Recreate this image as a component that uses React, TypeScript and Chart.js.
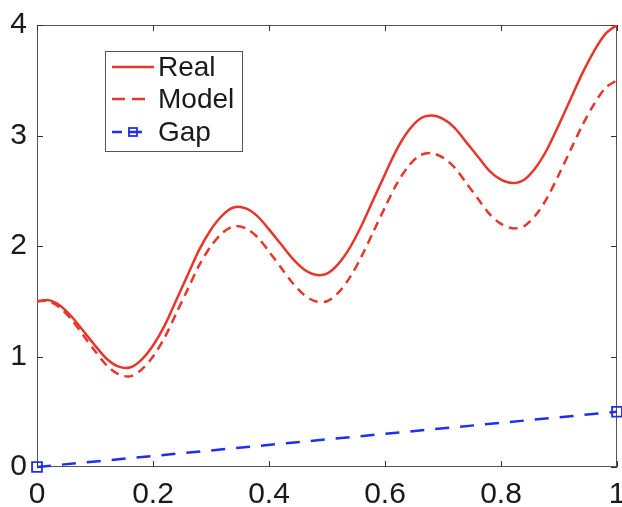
import { useEffect, useRef } from "react";
import { Chart, registerables } from "chart.js";

Chart.register(...registerables);

// sample positions along x
const xValues = [
  0, 0.02, 0.04, 0.06, 0.08, 0.1, 0.12, 0.14, 0.16, 0.18,
  0.2, 0.22, 0.24, 0.26, 0.28, 0.3, 0.32, 0.34, 0.36, 0.38,
  0.4, 0.42, 0.44, 0.46, 0.48, 0.5, 0.52, 0.54, 0.56, 0.58,
  0.6, 0.62, 0.64, 0.66, 0.68, 0.7, 0.72, 0.74, 0.76, 0.78,
  0.8, 0.82, 0.84, 0.86, 0.88, 0.9, 0.92, 0.94, 0.96, 0.98, 1,
];

const realValues = [
  1.5, 1.51, 1.46, 1.36, 1.23, 1.1, 0.98, 0.91, 0.9, 0.97,
  1.1, 1.28, 1.51, 1.74, 1.97, 2.15, 2.28, 2.35, 2.34, 2.27,
  2.15, 2.02, 1.89, 1.79, 1.74, 1.75, 1.84, 1.99, 2.19, 2.42,
  2.65, 2.87, 3.04, 3.15, 3.18, 3.15, 3.07, 2.94, 2.81, 2.68,
  2.6, 2.57, 2.6, 2.71, 2.88, 3.1, 3.33, 3.56, 3.76, 3.92, 4.0,
];

const modelValues = [
  1.5, 1.5, 1.44, 1.33, 1.19, 1.05, 0.92, 0.84, 0.82, 0.88,
  1.0, 1.17, 1.39, 1.61, 1.83, 2.0, 2.12, 2.18, 2.16, 2.08,
  1.95, 1.81, 1.67, 1.56, 1.5, 1.5, 1.58, 1.72, 1.91, 2.13,
  2.35, 2.56, 2.72, 2.82, 2.84, 2.8, 2.71, 2.57, 2.43, 2.29,
  2.2, 2.16, 2.18, 2.28, 2.44, 2.65, 2.87, 3.09, 3.28, 3.43, 3.5,
];

const gapX = [0, 1];
const gapValues = [0, 0.5];

const xTicks = [0, 0.2, 0.4, 0.6, 0.8, 1];
const xTickLabels = ["0", "0.2", "0.4", "0.6", "0.8", "1"];
const yTicks = [0, 1, 2, 3, 4];
const yTickLabels = ["0", "1", "2", "3", "4"];

const legendLabels = ["Real", "Model", "Gap"];

const RED = "#e5382a";
const BLUE = "#1d2ff0";
const AXIS = "#555555";
const TICK = "#333333";
const TXT = "#1a1a1a";
const FONT = '"Liberation Sans", Arial, Helvetica, sans-serif';

// box round the plot with inward ticks on all four sides
const framePlugin = {
  id: "frame",
  beforeDatasetsDraw(chart: any) {
    const { ctx, chartArea, scales } = chart;
    const { left, right, top, bottom } = chartArea;
    const tl = 6;
    ctx.save();
    ctx.strokeStyle = AXIS;
    ctx.lineWidth = 1;
    ctx.strokeRect(left + 0.5, top + 0.5, right - left - 1, bottom - top - 1);
    ctx.strokeStyle = TICK;
    ctx.beginPath();
    xTicks.forEach((v) => {
      const px = Math.round(scales.x.getPixelForValue(v)) + 0.5;
      ctx.moveTo(px, bottom);
      ctx.lineTo(px, bottom - tl);
      ctx.moveTo(px, top);
      ctx.lineTo(px, top + tl);
    });
    yTicks.forEach((v) => {
      const py = Math.round(scales.y.getPixelForValue(v)) + 0.5;
      ctx.moveTo(left, py);
      ctx.lineTo(left + tl, py);
      ctx.moveTo(right, py);
      ctx.lineTo(right - tl, py);
    });
    ctx.stroke();
    ctx.restore();
  },
};

const legendPlugin = {
  id: "boxLegend",
  afterDraw(chart: any) {
    const { ctx } = chart;
    const bx = 105, by = 51, bw = 137, bh = 100;
    const rows = [67, 99, 132];
    ctx.save();
    ctx.fillStyle = "#ffffff";
    ctx.fillRect(bx, by, bw, bh);
    ctx.strokeStyle = AXIS;
    ctx.lineWidth = 1;
    ctx.strokeRect(bx + 0.5, by + 0.5, bw, bh);

    ctx.lineWidth = 2.5;
    // Real
    ctx.strokeStyle = RED;
    ctx.setLineDash([]);
    ctx.beginPath();
    ctx.moveTo(112, rows[0]);
    ctx.lineTo(154, rows[0]);
    ctx.stroke();
    // Model
    ctx.setLineDash([13, 7]);
    ctx.beginPath();
    ctx.moveTo(112, rows[1]);
    ctx.lineTo(146, rows[1]);
    ctx.stroke();
    // Gap
    ctx.strokeStyle = BLUE;
    ctx.setLineDash([]);
    ctx.beginPath();
    ctx.moveTo(112, rows[2]);
    ctx.lineTo(122, rows[2]);
    ctx.moveTo(128, rows[2]);
    ctx.lineTo(142, rows[2]);
    ctx.stroke();
    ctx.lineWidth = 1.8;
    ctx.strokeRect(129, rows[2] - 4, 8, 8);

    ctx.fillStyle = TXT;
    ctx.font = `28px ${FONT}`;
    ctx.textAlign = "left";
    ctx.textBaseline = "middle";
    legendLabels.forEach((t, i) => ctx.fillText(t, 158, rows[i] + 1));
    ctx.restore();
  },
};

export default function App() {
  const canvasRef = useRef<HTMLCanvasElement | null>(null);

  useEffect(() => {
    document.body.style.margin = "0";
    const canvas = canvasRef.current;
    if (!canvas) return;

    const tickFont = { family: FONT, size: 30 };

    const chart = new Chart(canvas, {
      type: "line",
      data: {
        datasets: [
          {
            label: legendLabels[0],
            data: xValues.map((x, i) => ({ x, y: realValues[i] })),
            borderColor: RED,
            borderWidth: 2.5,
            pointRadius: 0,
            tension: 0.3,
            fill: false,
          },
          {
            label: legendLabels[1],
            data: xValues.map((x, i) => ({ x, y: modelValues[i] })),
            borderColor: RED,
            borderWidth: 2.5,
            borderDash: [9, 6],
            pointRadius: 0,
            tension: 0.3,
            fill: false,
          },
          {
            label: legendLabels[2],
            data: gapX.map((x, i) => ({ x, y: gapValues[i] })),
            borderColor: BLUE,
            borderWidth: 2.5,
            borderDash: [14, 11],
            pointStyle: "rect",
            pointRadius: 7,
            pointBorderWidth: 1.8,
            pointBorderColor: BLUE,
            pointBackgroundColor: "rgba(0,0,0,0)",
            fill: false,
            clip: false,
          },
        ],
      },
      options: {
        animation: false,
        responsive: false,
        layout: { autoPadding: false, padding: { top: 25, right: 5, left: 0, bottom: 0 } },
        plugins: {
          legend: { display: false },
          tooltip: { enabled: false },
        },
        scales: {
          x: {
            type: "linear",
            min: 0,
            max: 1,
            grid: { display: false, drawTicks: false },
            border: { display: false },
            afterBuildTicks: (s: any) => {
              s.ticks = xTicks.map((v) => ({ value: v }));
            },
            afterFit: (s: any) => {
              s.height = 40;
              s.paddingLeft = 0;
              s.paddingRight = 0;
            },
            ticks: {
              autoSkip: false,
              maxRotation: 0,
              padding: 10,
              color: TXT,
              font: tickFont,
              callback: (_v: any, i: number) => xTickLabels[i],
            },
          },
          y: {
            type: "linear",
            min: 0,
            max: 4,
            grid: { display: false, drawTicks: false },
            border: { display: false },
            afterBuildTicks: (s: any) => {
              s.ticks = yTicks.map((v) => ({ value: v }));
            },
            afterFit: (s: any) => {
              s.width = 37;
              s.paddingTop = 0;
              s.paddingBottom = 0;
            },
            ticks: {
              autoSkip: false,
              padding: 10,
              color: TXT,
              font: tickFont,
              callback: (_v: any, i: number) => yTickLabels[i],
            },
          },
        },
      },
      plugins: [framePlugin, legendPlugin],
    });

    return () => chart.destroy();
  }, []);

  return (
    <div style={{ width: 622, height: 507, background: "#fff" }}>
      <canvas ref={canvasRef} width={622} height={507} style={{ width: 622, height: 507 }} />
    </div>
  );
}
